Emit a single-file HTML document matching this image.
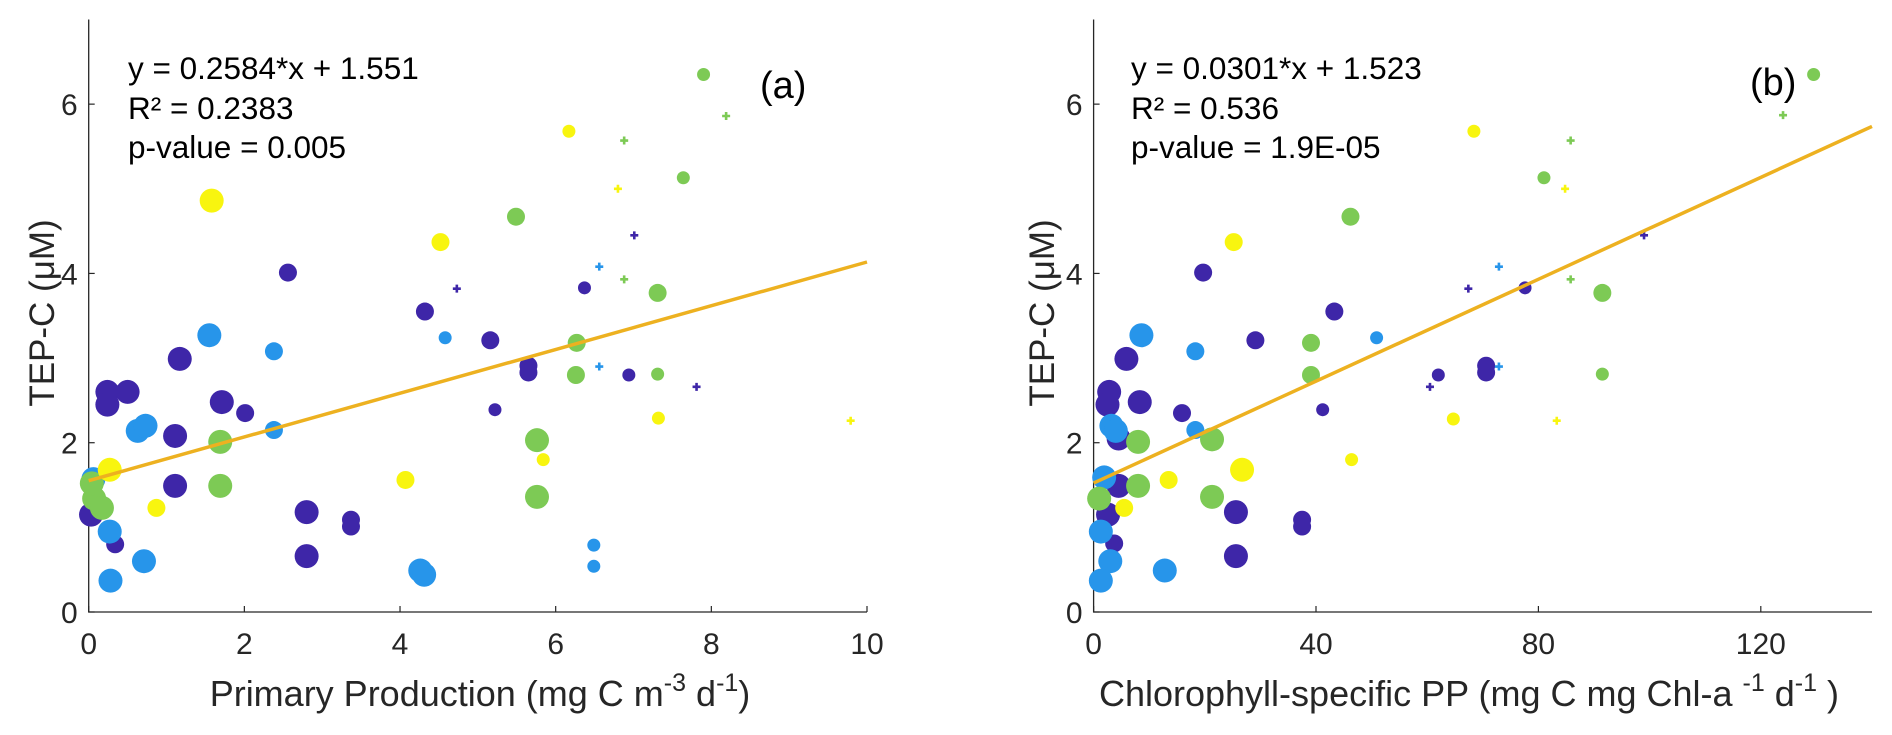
<!DOCTYPE html>
<html><head><meta charset="utf-8"><style>
html,body{margin:0;padding:0;background:#fff;}
svg{display:block;font-family:"Liberation Sans",Arial,sans-serif;}
</style></head><body>
<svg id="chart" width="1892" height="735" viewBox="0 0 1892 735" xmlns="http://www.w3.org/2000/svg">
<g id="pa"></g>
<g id="pb"></g>
</svg>
<script>
// Panel (a): [x, y, sizeClass] ; size 3=large,2=medium,1=small,0=cross
const aPurple=[[2.56,4.01,2],[7.01,4.45,0],[4.73,3.82,0],[6.37,3.83,1],[4.32,3.55,2],[5.16,3.21,2],[5.65,2.91,2],[5.65,2.83,2],[6.94,2.80,1],[7.81,2.66,0],[5.22,2.39,1],[1.17,2.99,3],[0.24,2.60,3],[0.24,2.45,3],[0.50,2.60,3],[1.71,2.48,3],[2.01,2.35,2],[1.11,2.08,3],[1.11,1.49,3],[2.80,1.18,3],[2.80,0.66,3],[3.37,1.09,2],[3.37,1.01,2],[0.03,1.15,3],[0.34,0.80,2]];
const aBlue=[[1.55,3.27,3],[2.38,3.08,2],[2.38,2.15,2],[0.63,2.14,3],[0.73,2.20,3],[4.58,3.24,1],[6.56,4.08,0],[6.56,2.90,0],[6.49,0.79,1],[6.49,0.54,1],[4.26,0.49,3],[4.31,0.44,3],[0.71,0.60,3],[0.28,0.37,3],[0.27,0.95,3],[0.06,1.57,3]];
const aGreen=[[7.90,6.35,1],[8.19,5.86,0],[6.88,5.57,0],[7.64,5.13,1],[5.49,4.67,2],[6.88,3.93,0],[7.31,3.77,2],[6.27,3.18,2],[6.26,2.80,2],[7.31,2.81,1],[5.76,2.03,3],[5.76,1.36,3],[1.69,2.01,3],[1.69,1.49,3],[0.07,1.34,3],[0.17,1.23,3],[0.04,1.52,3]];
const aYellow=[[1.58,4.86,3],[4.52,4.37,2],[6.17,5.68,1],[6.80,5.00,0],[7.32,2.29,1],[5.84,1.80,1],[4.07,1.56,2],[0.87,1.23,2],[0.27,1.68,3],[9.79,2.26,0]];
// Panel (b)
const bPurple=[[19.7,4.01,2],[43.3,3.55,2],[29.1,3.21,2],[67.4,3.82,0],[77.6,3.83,1],[70.6,2.91,2],[70.6,2.83,2],[62.0,2.80,1],[60.5,2.66,0],[41.2,2.39,1],[5.9,2.99,3],[2.8,2.60,3],[2.5,2.45,3],[8.3,2.48,3],[15.9,2.35,2],[4.5,2.05,3],[4.5,1.49,3],[25.6,1.18,3],[25.6,0.66,3],[37.5,1.09,2],[37.5,1.01,2],[2.6,1.15,3],[3.7,0.81,2],[99,4.45,0]];
const bBlue=[[8.6,3.27,3],[18.3,3.08,2],[18.3,2.15,2],[3.2,2.20,3],[4.0,2.14,3],[50.9,3.24,1],[72.9,4.08,0],[72.9,2.90,0],[12.8,0.49,3],[3.0,0.60,3],[1.3,0.37,3],[1.3,0.95,3],[1.9,1.59,3]];
const bGreen=[[81.0,5.13,1],[85.8,5.57,0],[85.8,3.93,0],[46.2,4.67,2],[39.1,3.18,2],[39.1,2.80,2],[21.3,2.04,3],[21.3,1.36,3],[8.0,2.01,3],[8.0,1.49,3],[1.0,1.34,3],[129.5,6.35,1],[124,5.87,0],[91.5,3.77,2],[91.5,2.81,1]];
const bYellow=[[68.4,5.68,1],[25.2,4.37,2],[84.8,5.00,0],[64.7,2.28,1],[46.4,1.80,1],[13.5,1.56,2],[26.7,1.68,3],[5.5,1.23,2],[83.3,2.26,0]];
const aXTicks=[0,2,4,6,8,10];
const bXTicks=[0,40,80,120];
const yTicks=[0,2,4,6];
const aFit=[0.2584,1.551];
const bFit=[0.0301,1.523];

const NS="http://www.w3.org/2000/svg";
function mk(parent,tag,attrs){const e=document.createElementNS(NS,tag);for(const k in attrs)e.setAttribute(k,attrs[k]);parent.appendChild(e);return e;}
const colors={purple:"#3E26A8",blue:"#2795EA",green:"#7DCA55",yellow:"#F8F50F"};
const radius=[0,6.5,9,12];
function panel(g,cfg){
  const sx=v=>cfg.x0+(v/cfg.xmax)*(cfg.x1-cfg.x0);
  const sy=v=>612-(v/7)*(612-19.5);
  const ax=mk(g,"path",{d:`M${cfg.x0},19.5V612H${cfg.x1}`,fill:"none",stroke:"#262626","stroke-width":1.3});
  
  
  cfg.xt.forEach(t=>{
    const x=sx(t);
    const tk=mk(g,"line",{x1:x,x2:x,y1:612,y2:606,stroke:"#262626","stroke-width":1.2});
    
    
    const tl=mk(g,"text",{x:x,y:654,"text-anchor":"middle","font-size":30,fill:"#262626"});
    tl.textContent=t;
    
    
  });
  yTicks.forEach(t=>{
    const y=sy(t);
    const tk=mk(g,"line",{x1:cfg.x0,x2:cfg.x0+6,y1:y,y2:y,stroke:"#262626","stroke-width":1.2});
    
    
    const tl=mk(g,"text",{x:cfg.x0-11,y:y+11,"text-anchor":"end","font-size":30,fill:"#262626"});
    tl.textContent=t;
    
    
  });
  cfg.series.forEach(([data,col,name])=>{
    data.forEach(p=>{
      const cx=sx(p[0]),cy=sy(p[1]);let e;
      if(p[2]===0){e=mk(g,"path",{d:`M${cx-4},${cy}H${cx+4}M${cx},${cy-4}V${cy+4}`,stroke:colors[col],"stroke-width":2.6});}
      else{e=mk(g,"circle",{cx:cx,cy:cy,r:radius[p[2]],fill:colors[col]});}
      
      
    });
  });
  const fl=mk(g,"line",{x1:sx(0),y1:sy(cfg.fit[1]),x2:sx(cfg.xmax),y2:sy(cfg.fit[0]*cfg.xmax+cfg.fit[1]),stroke:"#EDB120","stroke-width":3.5});
  
  
}
const pa=document.getElementById('pa'),pb=document.getElementById('pb');
panel(pa,{x0:88.7,x1:867,xmax:10,xt:aXTicks,fit:aFit,series:[[aPurple,"purple","purple"],[aBlue,"blue","blue"],[aGreen,"green","green"],[aYellow,"yellow","yellow"]]});
panel(pb,{x0:1093.6,x1:1872,xmax:140,xt:bXTicks,fit:bFit,series:[[bPurple,"purple","purple"],[bBlue,"blue","blue"],[bGreen,"green","green"],[bYellow,"yellow","yellow"]]});
</script>
<svg style="position:absolute;left:0;top:0" width="1892" height="735" xmlns="http://www.w3.org/2000/svg" font-family="Liberation Sans, Arial, sans-serif">
<g font-size="31.5" fill="#000">
<text x="128" y="79">y = 0.2584*x + 1.551</text>
<text x="128" y="119">R² = 0.2383</text>
<text x="128" y="158">p-value = 0.005</text>
</g>
<g font-size="31.5" fill="#000">
<text x="1131" y="79">y = 0.0301*x + 1.523</text>
<text x="1131" y="119">R² = 0.536</text>
<text x="1131" y="158">p-value = 1.9E-05</text>
</g>
<text x="760" y="98" font-size="38">(a)</text>
<text x="1750" y="95" font-size="38">(b)</text>
<text transform="translate(54,313) rotate(-90)" text-anchor="middle" font-size="35" fill="#262626">TEP-C (μM)</text>
<text transform="translate(1054,313) rotate(-90)" text-anchor="middle" font-size="35" fill="#262626">TEP-C (μM)</text>
<text x="480" y="706" text-anchor="middle" font-size="36" fill="#262626">Primary Production (mg C m<tspan dy="-15" font-size="25">-3</tspan><tspan dy="15"> d</tspan><tspan dy="-15" font-size="25">-1</tspan><tspan dy="15">)</tspan></text>
<text x="1469" y="706" text-anchor="middle" font-size="36" fill="#262626">Chlorophyll-specific PP (mg C mg Chl-a <tspan dy="-15" font-size="25">-1</tspan><tspan dy="15"> d</tspan><tspan dy="-15" font-size="25">-1</tspan><tspan dy="15"> )</tspan></text>
</svg>
</body></html>
